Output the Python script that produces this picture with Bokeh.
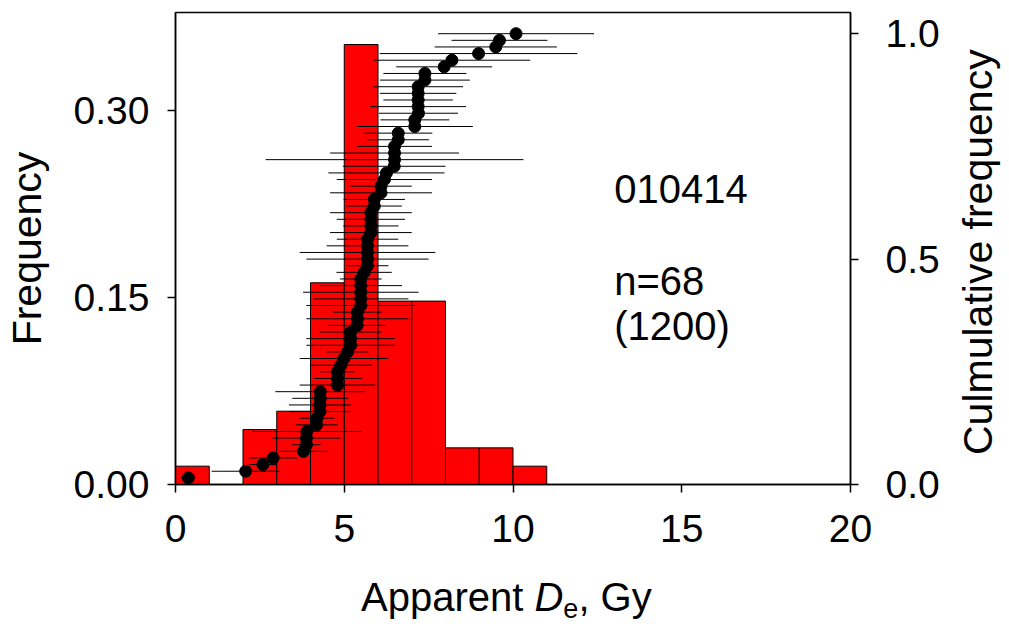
import math
from bokeh.plotting import figure
from bokeh.layouts import row, column
from bokeh.models import (Range1d, LinearAxis, FixedTicker, NumeralTickFormatter,
                          Label, ColumnDataSource, Div)
from bokeh.embed import file_html
from bokeh.resources import INLINE

# ---------------- data ----------------
bin_left = [0, 1, 2, 3, 4, 5, 6, 7, 8, 9, 10]
bin_right = [1, 2, 3, 4, 5, 6, 7, 8, 9, 10, 11]
freq = [0.0147, 0.0, 0.0441, 0.0588, 0.1618, 0.3529, 0.1471, 0.1471, 0.0294, 0.0294, 0.0147]

# apparent De (Gy), sorted, with 1-sigma errors
de = [0.38, 2.08, 2.59, 2.89, 3.79, 3.88, 3.88, 3.89, 4.18, 4.19,
      4.28, 4.28, 4.29, 4.29, 4.80, 4.80, 4.80, 4.90, 4.99, 5.10,
      5.19, 5.19, 5.19, 5.38, 5.39, 5.39, 5.49, 5.49, 5.49, 5.49,
      5.49, 5.59, 5.69, 5.69, 5.69, 5.69, 5.69, 5.79, 5.79, 5.79,
      5.79, 5.89, 5.89, 6.09, 6.09, 6.19, 6.25, 6.48, 6.49, 6.49,
      6.49, 6.60, 6.60, 7.09, 7.09, 7.20, 7.19, 7.19, 7.19, 7.19,
      7.39, 7.39, 7.96, 8.19, 8.98, 9.49, 9.60, 10.09]
de_err = [0.21, 1.01, 0.41, 0.71, 0.72, 0.42, 1.01, 1.62, 0.62, 0.52,
          0.92, 0.92, 0.83, 1.33, 1.12, 0.72, 0.52, 0.92, 1.31, 0.62,
          1.31, 1.31, 0.92, 0.87, 1.51, 0.72, 1.61, 1.41, 1.71, 1.22,
          0.62, 0.82, 0.62, 1.81, 2.01, 1.21, 0.91, 1.21, 0.82, 1.01,
          1.21, 0.82, 0.91, 1.51, 0.91, 1.41, 1.72, 1.52, 3.82, 1.91,
          1.11, 0.91, 1.01, 1.72, 1.02, 1.17, 1.42, 1.03, 1.13, 1.33,
          1.33, 1.23, 1.42, 2.32, 2.93, 1.81, 1.42, 2.31]

x_ticks = [0, 5, 10, 15, 20]
freq_ticks = [0.0, 0.15, 0.30]
cum_ticks = [0.0, 0.5, 1.0]

sample_id = "010414"
n_label = "n=68"
n_total = "(1200)"

N = len(de)
cum = [(k + 1) / N for k in range(N)]  # cumulative frequency = rank / n

FONT = "Liberation Sans"
FS = "39px"
FT = "41px"

p = figure(width=960, height=570, output_backend="svg", toolbar_location=None,
           x_range=Range1d(0, 20), y_range=Range1d(0, 0.3786),
           min_border_left=175, min_border_right=110,
           min_border_top=12, min_border_bottom=86)
p.extra_y_ranges = {"cum": Range1d(0, 1.047)}

p.xgrid.visible = False
p.ygrid.visible = False
p.outline_line_color = "black"
p.outline_line_width = 1.5
p.background_fill_color = "white"
p.border_fill_color = "white"

# histogram
p.quad(left=bin_left, right=bin_right, bottom=0, top=freq,
       fill_color="#ff0000", line_color="black", line_width=1)

# error bars + cumulative points
src = ColumnDataSource(dict(
    lo=[d - e for d, e in zip(de, de_err)],
    hi=[d + e for d, e in zip(de, de_err)],
    de=de, cum=cum))
p.segment(x0="lo", x1="hi", y0="cum", y1="cum", source=src,
          line_color="black", line_width=1, y_range_name="cum")
p.scatter(x="de", y="cum", source=src, size=12, fill_color="black",
          line_color="black", y_range_name="cum")

# right axis
ax_r = LinearAxis(y_range_name="cum")
p.add_layout(ax_r, "right")

for ax in [p.xaxis[0], p.yaxis[0], ax_r]:
    ax.axis_line_color = "black"
    ax.axis_line_width = 1.5
    ax.major_tick_line_color = "black"
    ax.major_tick_line_width = 1.5
    ax.major_tick_out = 8
    ax.major_tick_in = 0
    ax.minor_tick_line_color = None
    ax.major_label_text_font = FONT
    ax.major_label_text_font_size = FS
    ax.major_label_text_color = "black"
    ax.axis_label_text_font = FONT
    ax.axis_label_text_font_size = FT
    ax.axis_label_text_font_style = "normal"
    ax.axis_label_text_color = "black"

p.xaxis[0].ticker = FixedTicker(ticks=x_ticks)
p.xaxis[0].major_label_standoff = 22
p.yaxis[0].ticker = FixedTicker(ticks=freq_ticks)
p.yaxis[0].formatter = NumeralTickFormatter(format="0.00")
p.yaxis[0].axis_label = "Frequency"
p.yaxis[0].major_label_standoff = 18
p.yaxis[0].axis_label_standoff = 21
ax_r.ticker = FixedTicker(ticks=cum_ticks)
ax_r.formatter = NumeralTickFormatter(format="0.0")
ax_r.major_label_standoff = 27

# annotations inside the frame
for txt, yv in [(sample_id, 0.2374), (n_label, 0.163), (n_total, 0.127)]:
    p.add_layout(Label(x=13, y=yv, text=txt, text_font=FONT, text_font_size="40px",
                       text_color="black", text_align="left", text_baseline="middle"))

# x-axis title (italic D, subscript e) and right-axis title as HTML text
x_title = Div(width=960, height=54, styles={"overflow": "visible"}, text=(
    '<div style="margin-left:356px; margin-top:2px; font-family:\'Liberation Sans\';'
    ' font-size:40px; line-height:40px; white-space:nowrap; color:black;">'
    'Apparent <i>D</i><span style="font-size:27px; line-height:0; position:relative; top:7px;">e</span>, Gy'
    '</div>'))
y2_title = Div(width=49, height=624, styles={"overflow": "visible"}, text=(
    '<div style="width:405px; transform-origin:0 0; transform:translate(-17px, 450px) rotate(-90deg);'
    ' font-family:\'Liberation Sans\'; font-size:41px; line-height:41px; white-space:nowrap;'
    ' text-align:center; color:black;">Culmulative frequency</div>'))

layout = row(column(p, x_title, spacing=0), y2_title, spacing=0)

open("out.html", "w").write(file_html(layout, INLINE))
